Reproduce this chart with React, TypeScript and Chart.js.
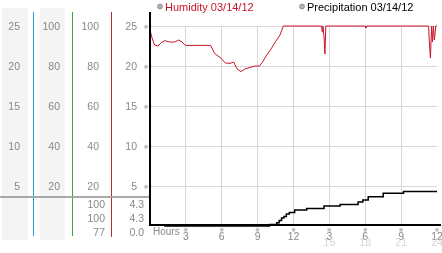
import React, { useEffect, useRef } from 'react';
import { Chart, registerables } from 'chart.js';

Chart.register(...registerables);

// ---- data ----
const humidityHours = [0, 0.17, 0.38, 0.67, 0.95, 1.23, 1.64, 2.06, 2.4, 2.68, 2.95, 5.07, 5.4, 5.69, 5.96, 6.3, 6.69, 7.0, 7.25, 7.6, 7.94, 8.36, 8.78, 9.14, 9.39, 9.76, 10.1, 10.5, 10.87, 11.15, 14.35, 14.4, 14.45, 14.55, 14.63, 14.7, 18.0, 18.05, 18.1, 23.3, 23.35, 23.45, 23.55, 23.62, 23.7, 23.78, 23.9, 24];
const humidityValues = [98, 94, 90.5, 90, 91.7, 92.7, 92, 92, 93, 92, 90.3, 90.3, 86.3, 85, 83.8, 81.5, 81.3, 82, 78.8, 77.2, 78.5, 79.3, 80, 80, 81.8, 85.5, 88.3, 92.2, 95.5, 100, 100, 97, 100, 95, 86, 100, 100, 99, 100, 100, 93, 84, 100, 92, 100, 93, 100, 100];

const precipHours = [0, 1.25, 10.0, 10.6, 10.8, 11.0, 11.2, 11.4, 11.65, 12.1, 13.1, 14.55, 15.9, 17.4, 17.8, 18.25, 19.5, 21.2, 24];
const precipValues = [0.1, 0, 0.2, 0.4, 0.7, 1.0, 1.2, 1.5, 1.7, 2.0, 2.2, 2.5, 2.7, 3.0, 3.25, 3.65, 4.1, 4.3, 4.3];

const xTickValues = [3, 6, 9, 12, 15, 18, 21, 24];
const xTickLabels = ['3', '6', '9', '12', '3', '6', '9', '12'];
const xTickLabels2 = ['', '', '', '', '15', '18', '21', '24'];

const yTickValues = [5, 10, 15, 20, 25];
const col1Labels = ['5', '10', '15', '20', '25'];
const col2Labels = ['20', '40', '60', '80', '100'];
const col3Labels = ['20', '40', '60', '80', '100'];
const col4Labels = ['5', '10', '15', '20', '25'];

const humidityStats = ['100', '100', '77'];
const precipStats = ['4.3', '4.3', '0.0'];

const legendLabels = ['Humidity 03/14/12', 'Precipitation 03/14/12'];
const xAxisTitle = 'Hours';

const RED = '#c8162a';
const FONT = '"Liberation Sans", Arial, sans-serif';
const MARK = '\u203B';

const overlayPlugin = {
  id: 'overlay',
  beforeDraw(chart: any) {
    const ctx = chart.ctx;
    ctx.save();
    ctx.fillStyle = '#ffffff';
    ctx.fillRect(0, 0, chart.width, chart.height);
    ctx.fillStyle = '#f4f4f4';
    ctx.fillRect(2, 8, 26, 232);
    ctx.fillRect(40, 8, 25, 232);
    ctx.restore();
  },
  afterDraw(chart: any) {
    const ctx = chart.ctx;
    const y = chart.scales.y;
    const x = chart.scales.x;
    ctx.save();
    // colored vertical lines
    ctx.fillStyle = '#22a6d0';
    ctx.fillRect(33, 12, 1, 224);
    ctx.fillStyle = '#3aa83a';
    ctx.fillRect(72, 12, 1, 224);
    ctx.fillStyle = '#c0282d';
    ctx.fillRect(111, 12, 1, 225);
    // gray separator
    ctx.fillStyle = 'rgba(160,160,160,0.9)';
    ctx.fillRect(0, 196, 150, 2);
    // black axes
    ctx.fillStyle = '#000';
    ctx.fillRect(149, 12, 2, 214);
    ctx.fillRect(149, 224, 292, 2);

    // left column labels
    ctx.font = '10.5px ' + FONT;
    ctx.fillStyle = '#888';
    ctx.textAlign = 'right';
    ctx.textBaseline = 'alphabetic';
    yTickValues.forEach((v, i) => {
      const py = Math.round(y.getPixelForValue(v)) + 4;
      ctx.fillText(col1Labels[i], 20, py);
      ctx.fillText(col2Labels[i], 60, py);
      ctx.fillText(col3Labels[i], 99, py);
      ctx.fillText(col4Labels[i], 137, py);
    });
    // stats
    const statRows = [208, 222, 236];
    statRows.forEach((ry, i) => {
      ctx.fillText(humidityStats[i], 105, ry);
      ctx.fillText(precipStats[i], 144, ry);
    });
    // y markers
    ctx.font = '6px "DejaVu Sans", sans-serif';
    ctx.textAlign = 'center';
    ctx.textBaseline = 'middle';
    yTickValues.forEach((v) => {
      const py = Math.round(y.getPixelForValue(v)) + 1;
      ctx.fillText(MARK, 146, py);
    });
    // x labels
    xTickValues.forEach((v, i) => {
      const px = x.getPixelForValue(v);
      ctx.font = '6px "DejaVu Sans", sans-serif';
      ctx.fillStyle = '#888';
      ctx.textAlign = 'center';
      ctx.textBaseline = 'middle';
      ctx.fillText(MARK, px, 230);
      ctx.font = '10.5px ' + FONT;
      ctx.textBaseline = 'alphabetic';
      ctx.fillText(xTickLabels[i], px, 240);
      if (xTickLabels2[i]) {
        ctx.fillStyle = '#d4d4d4';
        ctx.fillText(xTickLabels2[i], px, 246);
      }
    });
    ctx.fillStyle = '#888';
    ctx.textAlign = 'left';
    ctx.font = '10px ' + FONT;
    ctx.fillText(xAxisTitle, 153, 235);

    // legend
    const legendX = [160, 302];
    const legendColors = [RED, '#000'];
    legendLabels.forEach((t, i) => {
      ctx.beginPath();
      ctx.arc(legendX[i], 6.5, 2.5, 0, Math.PI * 2);
      ctx.fillStyle = '#b0b0b0';
      ctx.fill();
      ctx.strokeStyle = '#888';
      ctx.lineWidth = 0.8;
      ctx.stroke();
      ctx.font = '11px ' + FONT;
      ctx.fillStyle = legendColors[i];
      ctx.textAlign = 'left';
      ctx.textBaseline = 'alphabetic';
      ctx.fillText(t, legendX[i] + 5, 10.5);
    });
    ctx.restore();
  },
};

export default function App() {
  const ref = useRef<HTMLCanvasElement | null>(null);
  useEffect(() => {
    if (!ref.current) return;
    const chart = new Chart(ref.current, {
      type: 'line',
      data: {
        datasets: [
          {
            label: legendLabels[0],
            data: humidityHours.map((h, i) => ({ x: h, y: humidityValues[i] })),
            borderColor: RED,
            borderWidth: 1,
            pointRadius: 0,
            tension: 0,
            yAxisID: 'yh',
            clip: false as any,
          },
          {
            label: legendLabels[1],
            data: precipHours.map((h, i) => ({ x: h, y: precipValues[i] })),
            borderColor: '#000',
            borderWidth: 1.5,
            pointRadius: 0,
            stepped: true,
            yAxisID: 'y',
            clip: false as any,
          },
        ],
      },
      options: {
        animation: false,
        responsive: false,
        devicePixelRatio: 1,
        layout: { padding: { left: 150, top: 26, right: 5, bottom: 27 } },
        plugins: { legend: { display: false }, tooltip: { enabled: false } },
        scales: {
          x: {
            type: 'linear',
            min: 0,
            max: 24,
            ticks: { display: false, stepSize: 3 },
            border: { display: false },
            grid: {
              drawTicks: false,
              color: (c: any) => (c.tick && (c.tick.value === 0 || c.tick.value === 24) ? 'rgba(0,0,0,0)' : '#d6d6d6'),
            },
          },
          y: {
            type: 'linear',
            min: 0,
            max: 25,
            ticks: { display: false, stepSize: 5 },
            border: { display: false },
            grid: {
              drawTicks: false,
              color: (c: any) => (c.tick && c.tick.value === 0 ? 'rgba(0,0,0,0)' : '#d6d6d6'),
            },
          },
          yh: {
            type: 'linear',
            display: false,
            min: 0,
            max: 100,
          },
        },
      },
      plugins: [overlayPlugin],
    });
    return () => chart.destroy();
  }, []);
  return (
    <div style={{ position: 'absolute', left: 0, top: 0, width: 442, height: 253 }}>
      <canvas ref={ref} width={442} height={253} style={{ width: 442, height: 253 }} />
    </div>
  );
}
